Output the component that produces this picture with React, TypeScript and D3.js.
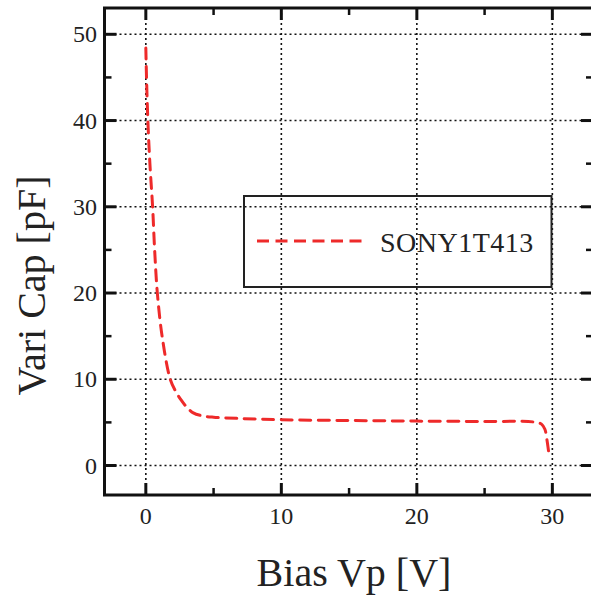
import React, { useEffect, useRef } from 'react';
import { select, scaleLinear, line, curveCatmullRom } from 'd3';

// curve
const biasV = [0, 0.05, 0.15, 0.3, 0.5, 0.65, 0.85, 1.2, 1.8, 2.2, 2.6, 3.0, 3.5, 4.2, 5, 7, 10, 15, 20, 25, 28.6, 29.2, 29.45, 29.6, 29.75];
const capPF = [48.4, 45, 40, 35, 30, 25, 20, 15, 10, 8.6, 7.6, 6.8, 6.1, 5.75, 5.6, 5.45, 5.3, 5.22, 5.15, 5.1, 5.05, 4.8, 4.2, 3.0, 1.3];

const xMajor = [0, 10, 20, 30];
const xMinor = [5, 15, 25];
const yMajor = [0, 10, 20, 30, 40, 50];
const yMinor = [5, 15, 25, 35, 45];

const seriesName = 'SONY1T413';
const xTitle = 'Bias Vp [V]';
const yTitle = 'Vari Cap [pF]';

const FONT = '"Liberation Serif", "Times New Roman", serif';
const RED = '#ee2a2a';

export default function App() {
  const svgRef = useRef<SVGSVGElement>(null);

  useEffect(() => {
    const width = 591;
    const height = 596;
    const left = 104.5, right = 593, top = 8, bottom = 495;

    const svg = select(svgRef.current)
      .attr('width', width)
      .attr('height', height);
    svg.selectAll('*').remove();

    const x = scaleLinear().domain([-3.05, 33]).range([left, right]);
    const y = scaleLinear().domain([-3.42, 53.05]).range([bottom, top]);

    // grid
    const grid = svg.append('g')
      .attr('stroke', '#111')
      .attr('stroke-width', 1.6)
      .attr('stroke-dasharray', '2,3');
    grid.append('g').selectAll('line').data(xMajor).join('line')
      .attr('x1', d => x(d)).attr('x2', d => x(d))
      .attr('y1', top).attr('y2', bottom);
    grid.append('g').selectAll('line').data(yMajor).join('line')
      .attr('x1', left).attr('x2', right)
      .attr('y1', d => y(d)).attr('y2', d => y(d));

    // legend box
    svg.append('rect')
      .attr('x', 244).attr('y', 196)
      .attr('width', 307.5).attr('height', 91)
      .attr('fill', 'none').attr('stroke', '#222').attr('stroke-width', 2);
    svg.append('line')
      .attr('x1', 257).attr('x2', 364).attr('y1', 241).attr('y2', 241)
      .attr('stroke', RED).attr('stroke-width', 3)
      .attr('stroke-dasharray', '12,6.5');
    svg.append('text')
      .attr('x', 380).attr('y', 252)
      .attr('font-family', FONT).attr('font-size', 28)
      .attr('letter-spacing', 0.5)
      .attr('fill', '#222')
      .text(seriesName);

    // curve
    const pts = biasV.map((v, i) => [v, capPF[i]] as [number, number]);
    const path = line<[number, number]>()
      .x(d => x(d[0]))
      .y(d => y(d[1]))
      .curve(curveCatmullRom.alpha(0.5));
    svg.append('path')
      .attr('d', path(pts))
      .attr('fill', 'none')
      .attr('stroke', RED)
      .attr('stroke-width', 3)
      .attr('stroke-linecap', 'round')
      .attr('stroke-dasharray', '11,7.5');

    // ticks (inward, all four sides)
    const ticks = svg.append('g').attr('stroke', '#111');
    const addX = (vals: number[], len: number, w: number) => {
      ticks.append('g').selectAll('line').data(vals).join('line')
        .attr('x1', d => x(d)).attr('x2', d => x(d))
        .attr('y1', bottom).attr('y2', bottom - len).attr('stroke-width', w);
      ticks.append('g').selectAll('line').data(vals).join('line')
        .attr('x1', d => x(d)).attr('x2', d => x(d))
        .attr('y1', top).attr('y2', top + len).attr('stroke-width', w);
    };
    const addY = (vals: number[], len: number, w: number) => {
      ticks.append('g').selectAll('line').data(vals).join('line')
        .attr('y1', d => y(d)).attr('y2', d => y(d))
        .attr('x1', left).attr('x2', left + len).attr('stroke-width', w);
      ticks.append('g').selectAll('line').data(vals).join('line')
        .attr('y1', d => y(d)).attr('y2', d => y(d))
        .attr('x1', right).attr('x2', right - len).attr('stroke-width', w);
    };
    addX(xMajor, 12, 3);
    addX(xMinor, 7, 2.5);
    addY(yMajor, 12, 3);
    addY(yMinor, 7, 2.5);

    // frame
    svg.append('rect')
      .attr('x', left).attr('y', top)
      .attr('width', right - left).attr('height', bottom - top)
      .attr('fill', 'none').attr('stroke', '#111').attr('stroke-width', 3);

    // tick labels
    svg.append('g').selectAll('text').data(xMajor).join('text')
      .attr('x', d => x(d)).attr('y', 524)
      .attr('text-anchor', 'middle')
      .attr('font-family', FONT).attr('font-size', 24).attr('fill', '#222')
      .text(d => String(d));
    svg.append('g').selectAll('text').data(yMajor).join('text')
      .attr('x', 97).attr('y', d => y(d) + 8)
      .attr('text-anchor', 'end')
      .attr('font-family', FONT).attr('font-size', 24).attr('fill', '#222')
      .text(d => String(d));

    // titles
    svg.append('text')
      .attr('x', 354).attr('y', 586)
      .attr('text-anchor', 'middle')
      .attr('font-family', FONT).attr('font-size', 40).attr('fill', '#222')
      .text(xTitle);
    svg.append('text')
      .attr('transform', `translate(45, 285.5) rotate(-90)`)
      .attr('text-anchor', 'middle')
      .attr('font-family', FONT).attr('font-size', 40).attr('fill', '#222')
      .text(yTitle);
  }, []);

  return (
    <div>
      <svg ref={svgRef} style={{ position: 'absolute', left: 0, top: 0, background: '#fff' }} />
    </div>
  );
}
